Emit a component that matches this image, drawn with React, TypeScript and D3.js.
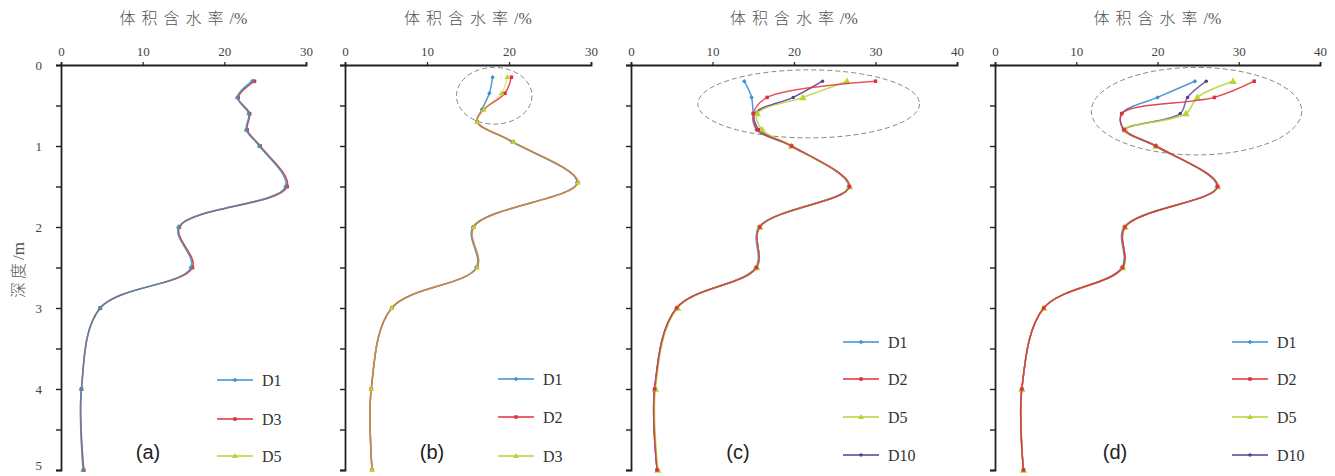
import React, { useEffect, useRef } from "react";
import * as d3 from "d3";

// ---------- data ----------
const depthA = [0.2, 0.4, 0.6, 0.8, 1.0, 1.5, 2, 2.5, 3, 4, 5];
const aD1 = [23.4, 21.6, 23.0, 22.7, 24.3, 27.5, 14.4, 15.9, 4.8, 2.5, 2.7];
const aD3 = [23.7, 21.7, 23.1, 22.8, 24.4, 27.7, 14.5, 16.1, 4.8, 2.5, 2.8];
const aD5 = [23.5, 21.6, 23.0, 22.7, 24.3, 27.6, 14.4, 16.0, 4.8, 2.5, 2.7];

const depthB = [0.15, 0.35, 0.55, 0.7, 0.95, 1.45, 2, 2.5, 3, 4, 5];
const bD1 = [18.0, 17.6, 16.7, 16.1, 20.4, 28.3, 15.6, 16.0, 5.7, 3.2, 3.3];
const bD2 = [20.3, 19.5, 16.9, 16.1, 20.5, 28.4, 15.7, 16.1, 5.7, 3.2, 3.3];
const bD3 = [19.8, 19.1, 16.9, 16.1, 20.5, 28.4, 15.7, 16.1, 5.7, 3.2, 3.3];

const depthC = [0.2, 0.4, 0.6, 0.8, 1.0, 1.5, 2, 2.5, 3, 4, 5];
const cD1 = [13.9, 14.8, 15.0, 15.4, 19.6, 26.7, 15.7, 15.3, 5.6, 2.9, 3.2];
const cD2 = [30.0, 16.7, 15.0, 15.5, 19.7, 26.8, 15.8, 15.4, 5.6, 2.9, 3.2];
const cD5 = [26.5, 21.1, 15.5, 16.1, 19.7, 26.8, 15.8, 15.4, 5.7, 3.0, 3.3];
const cD10 = [23.5, 19.9, 15.2, 15.7, 19.7, 26.8, 15.8, 15.4, 5.6, 2.9, 3.2];

const depthD = [0.2, 0.4, 0.6, 0.8, 1.0, 1.5, 2, 2.5, 3, 4, 5];
const dD1 = [24.6, 20.0, 15.6, 15.8, 19.7, 27.3, 15.9, 15.6, 6.0, 3.3, 3.5];
const dD2 = [31.9, 27.0, 15.6, 15.9, 19.8, 27.4, 16.0, 15.7, 6.0, 3.3, 3.5];
const dD5 = [29.3, 24.9, 23.5, 16.0, 19.8, 27.4, 16.0, 15.7, 6.0, 3.3, 3.5];
const dD10 = [26.0, 23.7, 22.8, 16.0, 19.8, 27.4, 16.0, 15.7, 6.0, 3.3, 3.5];

const xTicks30 = [0, 10, 20, 30];
const xTicks40 = [0, 10, 20, 30, 40];
const depthTicks = [0, 0.5, 1, 1.5, 2, 2.5, 3, 3.5, 4, 4.5, 5];
const depthLabels = [0, 1, 2, 3, 4, 5];

const xTitleChars = "体积含水率";
const xTitleUnit = "/%";
const yTitleChars = "深度";
const yTitleUnit = "/m";

const COLORS = ["#3d8fd0", "#e0303c", "#b9d334", "#5a3b96"];
const MARKERS = ["diamond", "square", "triangle", "circle"];

type Series = { name: string; values: number[] };
type Panel = {
  label: string;
  depth: number[];
  series: Series[];
  xMax: number;
  xTicks: number[];
  px0: number;
  px1: number;
  showDepthLabels: boolean;
  ellipse?: { cx: number; cy: number; rx: number; ry: number }; // in data units
  legendX: number;
  legendY: number[];
  tagX: number;
  order: number[];
  opac: number[];
};

const panels: Panel[] = [
  {
    label: "(a)", depth: depthA,
    series: [{ name: "D1", values: aD1 }, { name: "D3", values: aD3 }, { name: "D5", values: aD5 }],
    xMax: 30, xTicks: xTicks30, px0: 61, px1: 306, showDepthLabels: true,
    legendX: 217, legendY: [380, 419, 456], tagX: 148,
    order: [2, 1, 0], opac: [0.8, 0.9, 0.9],
  },
  {
    label: "(b)", depth: depthB,
    series: [{ name: "D1", values: bD1 }, { name: "D2", values: bD2 }, { name: "D3", values: bD3 }],
    xMax: 30, xTicks: xTicks30, px0: 345, px1: 591, showDepthLabels: false,
    ellipse: { cx: 18.2, cy: 0.38, rx: 4.6, ry: 0.35 },
    legendX: 498, legendY: [379, 417, 456], tagX: 432,
    order: [0, 1, 2], opac: [0.9, 0.9, 0.55],
  },
  {
    label: "(c)", depth: depthC,
    series: [{ name: "D1", values: cD1 }, { name: "D2", values: cD2 }, { name: "D5", values: cD5 }, { name: "D10", values: cD10 }],
    xMax: 40, xTicks: xTicks40, px0: 631, px1: 957, showDepthLabels: false,
    ellipse: { cx: 21.8, cy: 0.48, rx: 13.6, ry: 0.42 },
    legendX: 843, legendY: [342, 379, 417, 455], tagX: 738,
    order: [3, 0, 2, 1], opac: [0.9, 0.8, 0.9, 0.9],
  },
  {
    label: "(d)", depth: depthD,
    series: [{ name: "D1", values: dD1 }, { name: "D2", values: dD2 }, { name: "D5", values: dD5 }, { name: "D10", values: dD10 }],
    xMax: 40, xTicks: xTicks40, px0: 995, px1: 1320, showDepthLabels: false,
    ellipse: { cx: 24.8, cy: 0.57, rx: 12.95, ry: 0.54 },
    legendX: 1232, legendY: [342, 379, 417, 455], tagX: 1115,
    order: [0, 3, 2, 1], opac: [0.9, 0.9, 0.9, 0.8],
  },
];

const TOP = 65;
const BOTTOM = 470;

function drawMarker(g: any, kind: string, x: number, y: number, color: string, s: number) {
  if (kind === "square") {
    g.append("rect").attr("x", x - s / 2).attr("y", y - s / 2).attr("width", s).attr("height", s).attr("fill", color);
  } else if (kind === "triangle") {
    const h = s * 1.1;
    g.append("path")
      .attr("d", `M${x},${y - h / 2 - 1}L${x + h / 2 + 1},${y + h / 2}L${x - h / 2 - 1},${y + h / 2}Z`)
      .attr("fill", color);
  } else if (kind === "diamond") {
    const r = s / 2 + 0.5;
    g.append("path").attr("d", `M${x},${y - r}L${x + r},${y}L${x},${y + r}L${x - r},${y}Z`).attr("fill", color);
  } else {
    g.append("circle").attr("cx", x).attr("cy", y).attr("r", s / 2).attr("fill", color);
  }
}

const CJK = "'Noto Sans CJK SC', serif";
const SERIF = "'Liberation Serif', 'Times New Roman', serif";

export default function App() {
  const ref = useRef<SVGSVGElement>(null);

  useEffect(() => {
    const svg = d3.select(ref.current);
    svg.selectAll("*").remove();

    // y title
    const yt = svg.append("text")
      .attr("transform", `translate(20,270) rotate(-90)`)
      .attr("text-anchor", "middle")
      .attr("dominant-baseline", "middle")
      .attr("font-family", CJK)
      .attr("font-size", 16)
      .attr("font-weight", 300)
      .attr("fill", "#555");
    yt.append("tspan").attr("letter-spacing", 3).text(yTitleChars);
    yt.append("tspan").attr("font-family", SERIF).attr("font-size", 17).text(yTitleUnit);

    panels.forEach((p) => {
      const x = d3.scaleLinear().domain([0, p.xMax]).range([p.px0, p.px1]);
      const y = d3.scaleLinear().domain([0, 5]).range([TOP, BOTTOM]);
      const g = svg.append("g");

      // title
      const tt = g.append("text")
        .attr("x", (p.px0 + p.px1) / 2)
        .attr("y", 24)
        .attr("text-anchor", "middle")
        .attr("font-family", CJK)
        .attr("font-size", 16)
        .attr("font-weight", 300)
        .attr("fill", "#555");
      tt.append("tspan").attr("letter-spacing", 6).text(xTitleChars);
      tt.append("tspan").attr("font-family", SERIF).attr("font-size", 16).text(xTitleUnit);

      // x axis (top)
      const xa = g.append("g").attr("transform", `translate(0,${TOP})`)
        .call(d3.axisTop(x).tickValues(p.xTicks).tickSize(3).tickPadding(6).tickFormat(d3.format("d")) as any);
      xa.select(".domain").attr("stroke", "#222").attr("stroke-width", 1.8);
      xa.selectAll(".tick line").attr("stroke", "#222").attr("stroke-width", 1.2);
      xa.selectAll(".tick text")
        .attr("font-family", SERIF)
        .attr("font-size", 13).attr("fill", "#444");

      // y axis (left)
      const ya = g.append("g").attr("transform", `translate(${p.px0},0)`)
        .call(d3.axisLeft(y).tickValues(depthTicks).tickSize(5).tickPadding(14)
          .tickFormat((d: any) => (p.showDepthLabels && depthLabels.includes(+d) ? String(d) : "")) as any);
      ya.select(".domain").attr("stroke", "#222").attr("stroke-width", 1.8);
      ya.selectAll(".tick line").attr("stroke", "#222").attr("stroke-width", 1.4);
      ya.selectAll(".tick text")
        .attr("font-family", SERIF)
        .attr("font-size", 13).attr("fill", "#444")
        .attr("dy", (d: any) => (+d === 5 ? "-0.05em" : "0.32em"));

      // ellipse
      if (p.ellipse) {
        const e = p.ellipse;
        g.append("ellipse")
          .attr("cx", x(e.cx)).attr("cy", y(e.cy))
          .attr("rx", x(e.rx) - x(0)).attr("ry", y(e.ry) - y(0))
          .attr("fill", "none").attr("stroke", "#777").attr("stroke-width", 0.9)
          .attr("stroke-dasharray", "5,3");
      }

      const line = d3.line<number>()
        .x((v) => x(v))
        .y((_, i) => y(p.depth[i]))
        .curve(d3.curveCatmullRom.alpha(0.5));

      p.order.forEach((si) => {
        const s = p.series[si];
        const color = COLORS[si];
        g.append("path")
          .attr("d", line(s.values) as string)
          .attr("fill", "none")
          .attr("stroke", color)
          .attr("stroke-width", 1.5)
          .attr("stroke-opacity", p.opac[si]);
        s.values.forEach((v, i) => {
          drawMarker(g, MARKERS[si], x(v), y(p.depth[i]), color, si === 2 && p.xMax === 40 ? 5 : 3.5);
        });
      });

      // legend
      p.series.forEach((s, si) => {
        const ly = p.legendY[si];
        const color = COLORS[si];
        g.append("line")
          .attr("x1", p.legendX).attr("x2", p.legendX + 36)
          .attr("y1", ly).attr("y2", ly)
          .attr("stroke", color).attr("stroke-width", 1.3);
        drawMarker(g, MARKERS[si], p.legendX + 18, ly, color, 3.5);
        g.append("text")
          .attr("x", p.legendX + 45).attr("y", ly)
          .attr("dominant-baseline", "central")
          .attr("font-family", SERIF)
          .attr("font-size", 16).attr("fill", "#333")
          .text(s.name);
      });

      // panel tag
      g.append("text")
        .attr("x", p.tagX).attr("y", 452)
        .attr("text-anchor", "middle")
        .attr("dominant-baseline", "central")
        .attr("font-family", "'Liberation Sans', Arial, sans-serif")
        .attr("font-size", 20).attr("fill", "#222")
        .text(p.label);
    });
  }, []);

  return (
    <svg
      ref={ref}
      width={1335}
      height={476}
      style={{ position: "absolute", left: 0, top: 0, background: "#fff" }}
    />
  );
}
